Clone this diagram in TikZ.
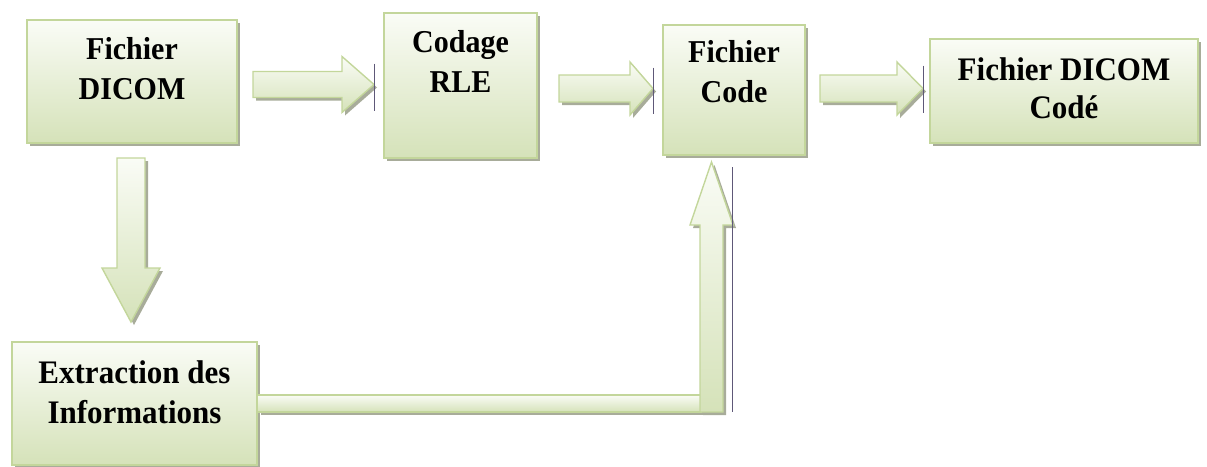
\documentclass[tikz,border=0pt]{standalone}
\usepackage{fontspec}
\setmainfont{Liberation Serif}
\usetikzlibrary{positioning,calc,shadows}

\definecolor{boxline}{HTML}{C3D69B}
\definecolor{boxtop}{HTML}{FAFCF6}
\definecolor{boxbottom}{HTML}{D5E2B9}
\definecolor{shadowc}{HTML}{A8AC9A}
\definecolor{guide}{HTML}{5E5878}

% block arrow pointing right: tail, tip, half shaft, half head, head offset
\newcommand{\blockright}[5]{%
  \path[blockarrow] ($(#1)+(0,-#3)$) -- ($(#2)+(#5,-#3)$) -- ($(#2)+(#5,-#4)$) -- (#2)
    -- ($(#2)+(#5,#4)$) -- ($(#2)+(#5,#3)$) -- ($(#1)+(0,#3)$) -- cycle;}
% block arrow pointing up or down
\newcommand{\blockvert}[5]{%
  \path[blockarrow] ($(#1)+(-#3,0)$) -- ($(#2)+(-#3,#5)$) -- ($(#2)+(-#4,#5)$) -- (#2)
    -- ($(#2)+(#4,#5)$) -- ($(#2)+(#3,#5)$) -- ($(#1)+(#3,0)$) -- cycle;}

\begin{document}
\begin{tikzpicture}[x=1pt, y=-1pt,
    box/.style={rectangle, draw=boxline, line width=1.4pt, top color=boxtop, bottom color=boxbottom,
                general shadow={fill=shadowc, shadow xshift=3pt, shadow yshift=-3pt}},
    blockarrow/.style={draw=boxline, line width=1.4pt, line join=miter, top color=boxtop, bottom color=boxbottom,
                general shadow={fill=shadowc, shadow xshift=3pt, shadow yshift=-3pt}},
    txt/.style={inner sep=0pt, align=center, yscale=1.06, font=\fontsize{30}{38}\selectfont\bfseries},
    thin/.style={draw=guide, line width=0.6pt}]
    \useasboundingbox (0,0) rectangle (1207,466);

    % the five blocks
    \node[box, minimum width=210pt, minimum height=123pt] (dicom) at (132,81.5) {};
    \node[box, minimum width=153pt, minimum height=145pt] (rle) at (460.5,85.5) {};
    \node[box, minimum width=142pt, minimum height=130pt] (code) at (734,90) {};
    \node[box, minimum width=268pt, minimum height=104pt] (coded) at (1064,91) {};
    \node[box, minimum width=245pt, minimum height=123pt] (extract) at (134.5,403.5) {};

    \node[txt, below=18pt of dicom.north] (dicom-t) {Fichier\\DICOM};
    \node[txt, below=18pt of rle.north] (rle-t) {Codage\\RLE};
    \node[txt, below=16pt of code.north] (code-t) {Fichier\\Code};
    \node[txt, below=19pt of coded.north, font=\fontsize{31}{36}\selectfont\bfseries] (coded-t) {Fichier DICOM\\Codé};
    \node[txt, below=19pt of extract.north, font=\fontsize{31}{38}\selectfont\bfseries] (extract-t) {Extraction des\\Informations};

    % arrow ends
    \coordinate (a1) at (253,84.5);   \coordinate (b1) at (374,84.5);
    \coordinate (a2) at (559,88.5);   \coordinate (b2) at (653,88.5);
    \coordinate (a3) at (820,88.5);   \coordinate (b3) at (923,88.5);
    \coordinate (a4) at (131,158);    \coordinate (b4) at (131,322);
    \coordinate (a5) at (711.5,412);  \coordinate (b5) at (711.5,162);

    \blockright{a1}{b1}{13}{28}{-32}
    \blockright{a2}{b2}{13.5}{26.5}{-23}
    \blockright{a3}{b3}{13.5}{26.5}{-26}
    \blockvert{a4}{b4}{14}{29}{-54}

    % return path from the extraction block
    \path[blockarrow] (extract.east |- 0,395) rectangle (701,412);
    \blockvert{a5}{b5}{11.5}{21.5}{63}

    \draw[thin] (b1) ++(0,-21) -- ++(0,47);
    \draw[thin] (b2) ++(0,-21) -- ++(0,46);
    \draw[thin] (b3) ++(0,-23) -- ++(0,47);
    \draw[thin] (732,167) -- (732,412);
\end{tikzpicture}
\end{document}
